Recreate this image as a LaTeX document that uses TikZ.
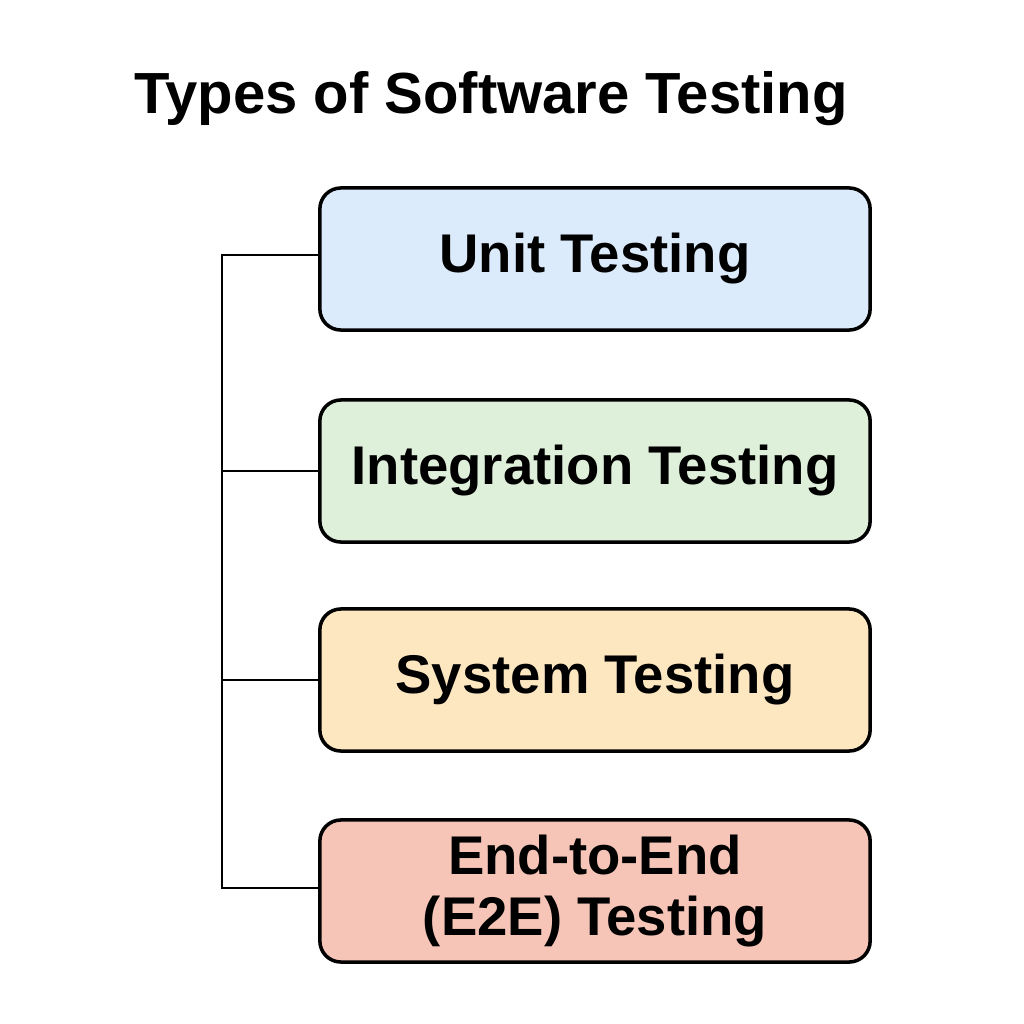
\documentclass[tikz,border=0pt]{standalone}
\usepackage{fontspec}
\setmainfont{Liberation Sans}
\definecolor{unitblue}{HTML}{DCEBFB}
\definecolor{intgreen}{HTML}{DFF0DA}
\definecolor{sysorange}{HTML}{FDE7C1}
\definecolor{eered}{HTML}{F6C5B8}
\begin{document}
\begin{tikzpicture}[x=0.01cm,y=-0.01cm,
    test box/.style={draw,line width=1pt,rounded corners=6pt,minimum width=5.5cm,minimum height=1.42cm,align=center,font=\bfseries\fontsize{15.5}{17.5}\selectfont},
    branch/.style={line width=0.7pt}]
\useasboundingbox (0,0) rectangle (1024,1024);
\node[font=\bfseries\fontsize{16.5}{20}\selectfont] at (491,99) (title) {Types of Software Testing};

\node[test box,fill=unitblue] at (595,259) (unit) {Unit Testing};
\node[test box,fill=intgreen] at (595,471) (integ) {Integration Testing};
\node[test box,fill=sysorange] at (595,680) (system) {System Testing};
\node[test box,fill=eered] at (595,891) (e2e) {End-to-End\\(E2E) Testing};

\coordinate (top) at (222,255);
\coordinate (bottom) at (222,888);
\draw[branch] (unit.west |- top) -- (top) -- (bottom) -- (e2e.west |- bottom);
\draw[branch] (integ.west) -- (integ.west -| top);
\draw[branch] (system.west) -- (system.west -| top);
\end{tikzpicture}
\end{document}
